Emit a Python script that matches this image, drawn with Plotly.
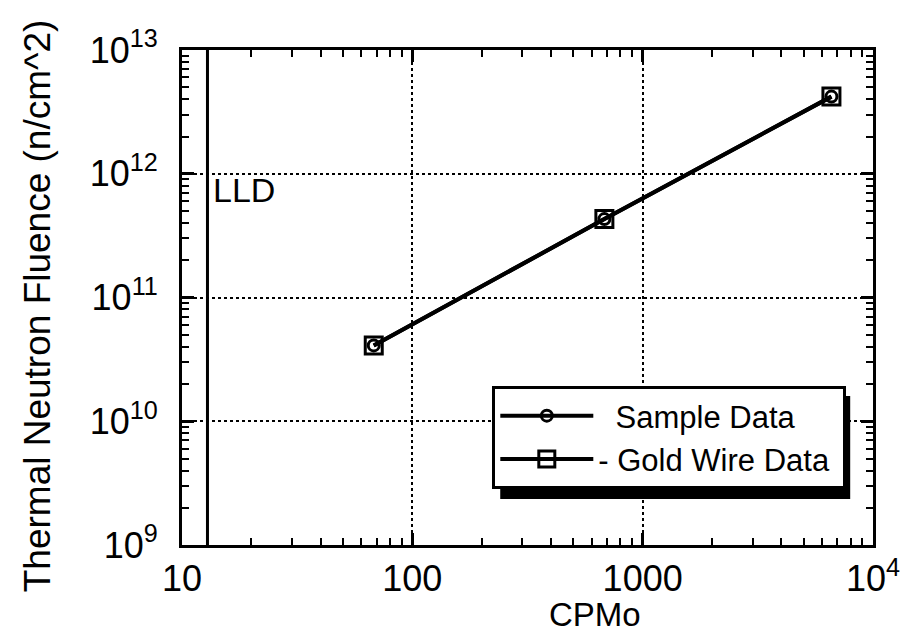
import plotly.graph_objects as go

# Data
cpmo = [68, 682, 6600]
sample_fluence = [4.1e10, 4.3e11, 4.2e12]
gold_fluence = [4.1e10, 4.3e11, 4.2e12]
lld_x = 12.9

x_tickvals = [10, 100, 1000, 10000]
x_ticktext = ["10", "100", "1000", "10<sup>4</sup>"]
y_tickvals = [1e9, 1e10, 1e11, 1e12, 1e13]
y_ticktext = ["10<sup>9</sup>", "10<sup>10</sup>", "10<sup>11</sup>", "10<sup>12</sup>", "10<sup>13</sup>"]

FONT = "Liberation Sans, Arial, Helvetica, sans-serif"

PW, PH = 697, 495
def px_x(v):
    return (v - 182) / PW
def px_y(v):
    return (545 - v) / PH

fig = go.Figure()
fig.add_trace(go.Scatter(
    x=cpmo, y=sample_fluence, mode="lines+markers", name="\u00a0\u00a0Sample Data",
    line=dict(color="black", width=4),
    marker=dict(symbol="circle-open", size=11, color="black", line=dict(width=3)),
))
fig.add_trace(go.Scatter(
    x=cpmo, y=gold_fluence, mode="lines+markers", name="- Gold Wire Data\u00a0",
    line=dict(color="black", width=4),
    marker=dict(symbol="square-open", size=17, color="black", line=dict(width=3)),
))

# LLD vertical line
fig.add_shape(type="line", xref="x", yref="paper", x0=lld_x, x1=lld_x, y0=0, y1=1,
              line=dict(color="black", width=3))
fig.add_annotation(x=0.042, y=11.87, xref="paper", yref="y", text="LLD", showarrow=False,
                   xanchor="left", yanchor="middle", font=dict(size=34, color="black", family=FONT))

# axis titles placed as in the reference
fig.add_annotation(x=0.597, y=-0.141, xref="paper", yref="paper", text="CPMo", showarrow=False,
                   xanchor="center", yanchor="middle", font=dict(size=33, color="black", family=FONT))
fig.add_annotation(x=px_x(36), y=px_y(306), xref="paper", yref="paper",
                   text="Thermal Neutron Fluence (n/cm^2)", showarrow=False, textangle=-90,
                   xanchor="center", yanchor="middle", font=dict(size=37, color="black", family=FONT))

# Legend shadow
fig.add_shape(type="rect", xref="paper", yref="paper",
              x0=px_x(503), x1=px_x(856), y0=px_y(499), y1=px_y(396),
              fillcolor="black", line=dict(width=0), layer="above")

axis_common = dict(
    type="log", showline=True, linecolor="black", linewidth=3, mirror="allticks",
    ticks="inside", ticklen=12, tickwidth=3, tickcolor="black",
    showgrid=True, gridcolor="black", gridwidth=2, griddash="dot",
    zeroline=False,
    tickfont=dict(size=36, color="black", family=FONT),
    minor=dict(ticks="inside", dtick="D1", ticklen=7, tickwidth=2, tickcolor="black", showgrid=False),
)

fig.update_xaxes(**axis_common, range=[1, 4], tickvals=x_tickvals, ticktext=x_ticktext)
fig.update_yaxes(**axis_common, range=[9, 13], tickvals=y_tickvals, ticktext=y_ticktext,
                 ticklabelstandoff=14)

fig.update_layout(
    width=904, height=635,
    margin=dict(l=174, r=33, t=42, b=98),
    paper_bgcolor="white", plot_bgcolor="white",
    font=dict(family=FONT, color="black"),
    legend=dict(x=px_x(495), y=px_y(386), xanchor="left", yanchor="top",
                bgcolor="white", bordercolor="black", borderwidth=3,
                font=dict(size=31, color="black", family=FONT),
                itemwidth=93, tracegroupgap=0),
    showlegend=True,
)

fig.write_html("out.html")
